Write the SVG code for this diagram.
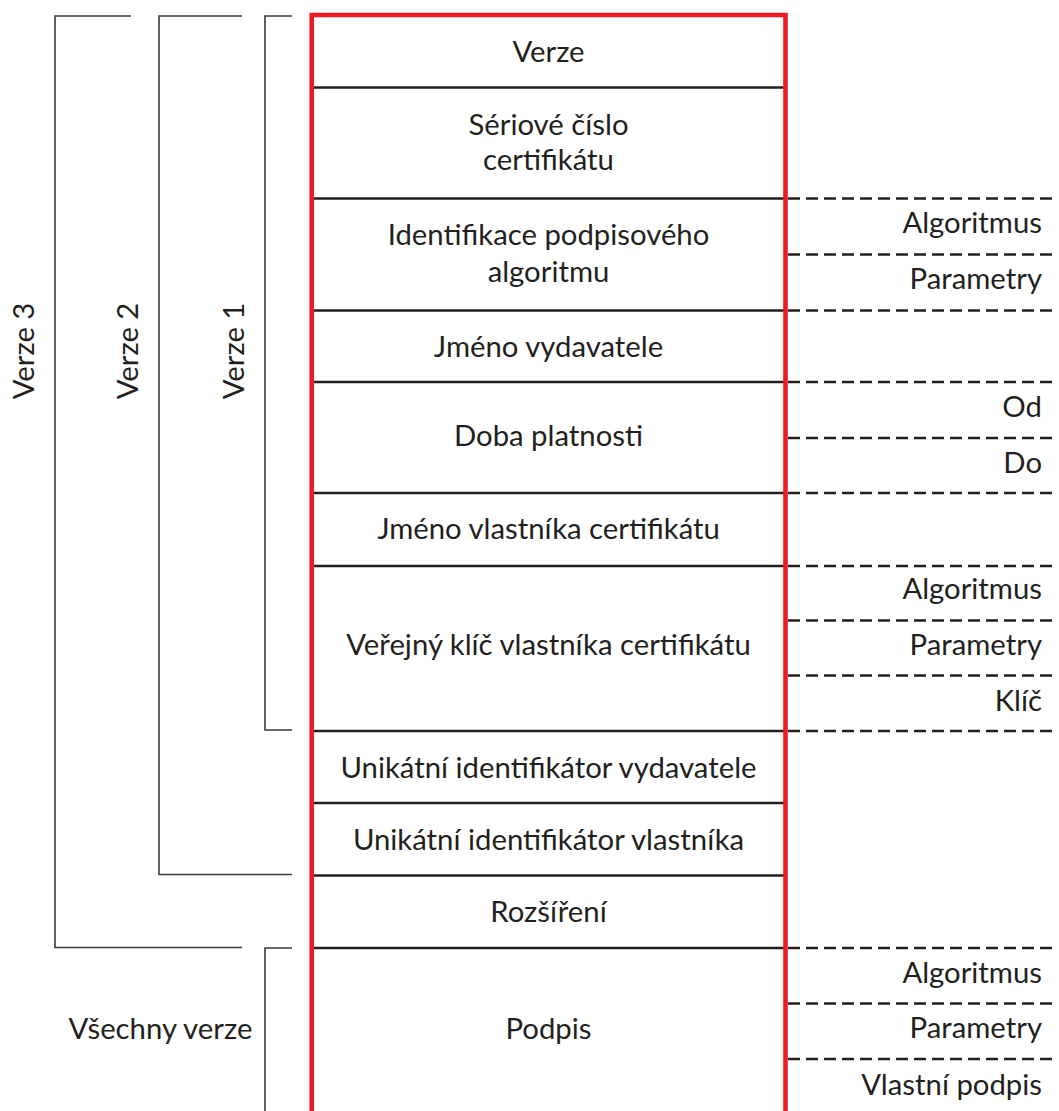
<svg xmlns="http://www.w3.org/2000/svg" width="1059" height="1111" viewBox="0 0 1059 1111">
  <style>
    .t { font-family: Lato, "Liberation Sans", sans-serif; font-size: 29.3px; fill: #231f20; }
    .c { text-anchor: middle; }
    .r { text-anchor: end; }
    .sep { stroke: #231f20; stroke-width: 2.6; fill: none; }
    .dash { stroke: #231f20; stroke-width: 2.6; stroke-dasharray: 12 6; fill: none; }
    .br { stroke: #3a3a3a; stroke-width: 1.6; fill: none; }
    .frame { stroke: #ed1c24; stroke-width: 4.6; fill: none; }
  </style>

  <rect x="0" y="0" width="1059" height="1111" fill="#ffffff"/>

  <!-- version brackets on the left -->
  <g id="brackets">
    <path class="br" d="M131,16 H55 V947.5 H242"/>
    <path class="br" d="M242,16 H159 V874.5 H292"/>
    <path class="br" d="M292,16 H265 V730 H292"/>
    <path class="br" d="M292,948 H265 V1111"/>
    <text class="t c" transform="translate(34,351) rotate(-90)">Verze 3</text>
    <text class="t c" transform="translate(138,351) rotate(-90)">Verze 2</text>
    <text class="t c" transform="translate(244,351) rotate(-90)">Verze 1</text>
    <text class="t c" x="160.5" y="1039">Všechny verze</text>
  </g>

  <!-- row separators inside the certificate frame -->
  <g id="connectors">
    <path class="sep" d="M312,87.5 H786 M312,198.5 H786 M312,310.5 H786 M312,382 H786 M312,493 H786 M312,566 H786 M312,731 H786 M312,803 H786 M312,875.5 H786 M312,948 H786"/>
    <!-- sub-field dashed lines on the right -->
    <path class="dash" d="M788,198.5 H1055 M788,254.5 H1055 M788,310.5 H1055
                          M788,382 H1055 M788,438 H1055 M788,493 H1055
                          M788,566 H1055 M788,620.5 H1055 M788,675.5 H1055 M788,731 H1055
                          M788,948 H1055 M788,1003.5 H1055 M788,1059 H1055"/>
  </g>

  <!-- certificate fields -->
  <g id="field-verze"><text class="t c" x="548.5" y="62">Verze</text></g>
  <g id="field-serial">
    <text class="t c" x="548.5" y="135">Sériové číslo</text>
    <text class="t c" x="548.5" y="170">certifikátu</text>
  </g>
  <g id="field-sigalg">
    <text class="t c" x="548.5" y="245">Identifikace podpisového</text>
    <text class="t c" x="548.5" y="282">algoritmu</text>
    <text class="t r" x="1042" y="233">Algoritmus</text>
    <text class="t r" x="1042" y="289">Parametry</text>
  </g>
  <g id="field-issuer"><text class="t c" x="548.5" y="357">Jméno vydavatele</text></g>
  <g id="field-validity">
    <text class="t c" x="548.5" y="446">Doba platnosti</text>
    <text class="t r" x="1042" y="417">Od</text>
    <text class="t r" x="1042" y="473">Do</text>
  </g>
  <g id="field-subject"><text class="t c" x="548.5" y="539">Jméno vlastníka certifikátu</text></g>
  <g id="field-pubkey">
    <text class="t c" x="548.5" y="655">Veřejný klíč vlastníka certifikátu</text>
    <text class="t r" x="1042" y="599">Algoritmus</text>
    <text class="t r" x="1042" y="655">Parametry</text>
    <text class="t r" x="1042" y="711">Klíč</text>
  </g>
  <g id="field-issuer-uid"><text class="t c" x="548.5" y="778">Unikátní identifikátor vydavatele</text></g>
  <g id="field-subject-uid"><text class="t c" x="548.5" y="850">Unikátní identifikátor vlastníka</text></g>
  <g id="field-extensions"><text class="t c" x="548.5" y="922">Rozšíření</text></g>
  <g id="field-signature">
    <text class="t c" x="548.5" y="1039">Podpis</text>
    <text class="t r" x="1042" y="983">Algoritmus</text>
    <text class="t r" x="1042" y="1038">Parametry</text>
    <text class="t r" x="1042" y="1095">Vlastní podpis</text>
  </g>

  <!-- red certificate frame, open at the bottom -->
  <g id="frame">
    <path class="frame" d="M311.75,1112 V15 H785.5 V1112"/>
  </g>
</svg>
